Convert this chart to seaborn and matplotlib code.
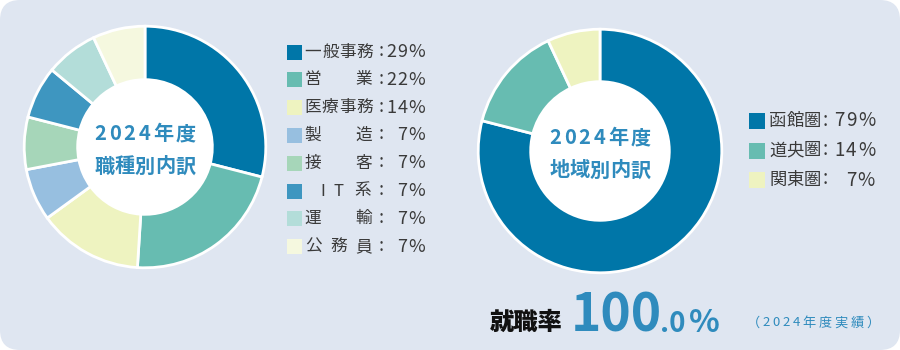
import matplotlib
matplotlib.use("Agg")
import matplotlib.pyplot as plt
from matplotlib.patches import FancyBboxPatch, Rectangle, Circle
import seaborn as sns

sns.set_theme(style="white")
plt.rcParams['font.family'] = ['Noto Sans CJK JP', 'DejaVu Sans']

# --- data -----------------------------------------------------------------
job_labels = ["一般事務", "営業", "医療事務", "製造", "接客", "ＩＴ系", "運輸", "公務員"]
job_values = [29, 22, 14, 7, 7, 7, 7, 7]
job_colors = ["#0076a8", "#67bcb1", "#eef3c0", "#97bfe0", "#a6d6b9", "#3e96c0", "#b3ddd9", "#f5f8df"]

area_labels = ["函館圏", "道央圏", "関東圏"]
area_values = [79, 14, 7]
area_colors = ["#0076a8", "#67bcb1", "#eef3c0"]

job_title = ["2024年度", "職種別内訳"]
area_title = ["2024年度", "地域別内訳"]
rate_label = "就職率"
rate_int = "100"
rate_dec = ".0"
rate_note = "（2024年度実績）"

BG = "#dfe6f1"
ACCENT = "#2f8bbd"
TXT = "#3a3a3a"
W, H = 900, 350

fig = plt.figure(figsize=(9, 3.5), dpi=100, facecolor="white")

# background panel
bg = fig.add_axes([0, 0, 1, 1], zorder=0)
bg.set_xlim(0, W); bg.set_ylim(H, 0); bg.axis("off")
bg.add_patch(FancyBboxPatch((0, 0), W, H, boxstyle="round,pad=0,rounding_size=20",
                            facecolor=BG, edgecolor="none"))


def donut(cx, cy, r, inner, values, colors):
    ax = fig.add_axes([(cx - r) / W, (H - cy - r) / H, 2 * r / W, 2 * r / H], zorder=1)
    ax.pie(values, colors=colors, startangle=90, counterclock=False,
           wedgeprops=dict(width=1 - inner / r, edgecolor="white", linewidth=2))
    ax.add_patch(Circle((0, 0), inner / r, facecolor="white", edgecolor="none", zorder=3))
    ax.set_xlim(-1.01, 1.01); ax.set_ylim(-1.01, 1.01)
    ax.set_aspect("equal"); ax.axis("off")
    return ax


donut(145, 147, 122, 68, job_values, job_colors)
donut(600, 151, 123, 70, area_values, area_colors)

# overlay for text and legend swatches
ov = fig.add_axes([0, 0, 1, 1], zorder=5)
ov.set_xlim(0, W); ov.set_ylim(H, 0); ov.axis("off")
ov.patch.set_alpha(0)
renderer = fig.canvas.get_renderer()


def spaced(x, y, s, tracking, ha="left", **kw):
    """Draw a string one glyph at a time with extra letter spacing."""
    widths = []
    for ch in s:
        t = ov.text(0, 0, ch, **kw)
        widths.append(t.get_window_extent(renderer).width)
        t.remove()
    total = sum(widths) + tracking * (len(s) - 1)
    if ha == "center":
        x -= total / 2
    elif ha == "right":
        x -= total
    for ch, w in zip(s, widths):
        ov.text(x, y, ch, ha="left", **kw)
        x += w + tracking


# centre titles
for (cx, cy), title in (((145, 147), job_title), ((600, 151), area_title)):
    spaced(cx, cy - 13, title[0], 2.8, ha="center", va="center",
           fontsize=14.5, fontweight="bold", color=ACCENT)
    spaced(cx, cy + 19, title[1], 0.3, ha="center", va="center",
           fontsize=14.5, fontweight="bold", color=ACCENT)

# left legend
name_pos = {4: [313, 330.3, 347.6, 365], 3: [313, 338.5, 364], 2: [313, 364]}
for i, (lab, val, col) in enumerate(zip(job_labels, job_values, job_colors)):
    y = 52 + i * 27.8
    ov.add_patch(Rectangle((287, y - 7.5), 15, 15, facecolor=col, edgecolor="none"))
    xs = [323, 339, 363] if lab == "ＩＴ系" else name_pos[len(lab)]
    for ch, x in zip(lab.replace("ＩＴ", "IT"), xs):
        ov.text(x, y, ch, ha="center", va="center", fontsize=12, color=TXT)
    ov.text(381, y - 1, ":", ha="center", va="center", fontsize=13, color=TXT)
    spaced(425, y, f"{val}%", 0.9, ha="right", va="center", fontsize=13, color=TXT)

# right legend
for i, (lab, val, col) in enumerate(zip(area_labels, area_values, area_colors)):
    y = 121 + i * 29.5
    ov.add_patch(Rectangle((749, y - 8), 16, 16, facecolor=col, edgecolor="none"))
    for ch, x in zip(lab, [778, 795, 812]):
        ov.text(x, y, ch, ha="center", va="center", fontsize=12.5, color=TXT)
    ov.text(825, y - 1, ":", ha="center", va="center", fontsize=13.5, color=TXT)
    spaced(875, y, f"{val}%", 1.2, ha="right", va="center", fontsize=13.5, color=TXT)

# employment rate
ov.text(526, 323, rate_label, ha="center", va="center", fontsize=17.5,
        fontweight="heavy", color="#111111")
ov.text(571, 332, rate_int, ha="left", va="baseline", fontsize=37,
        fontweight="bold", color=ACCENT)
ov.text(660, 332, rate_dec, ha="left", va="baseline", fontsize=20,
        fontweight="bold", color=ACCENT)
ov.text(689, 332, "%", ha="left", va="baseline", fontsize=23,
        fontweight="bold", color=ACCENT)
spaced(747, 323, rate_note, 2.6, ha="left", va="center", fontsize=9.5, color=ACCENT)

fig.savefig("out.png", dpi=100, facecolor="white")
